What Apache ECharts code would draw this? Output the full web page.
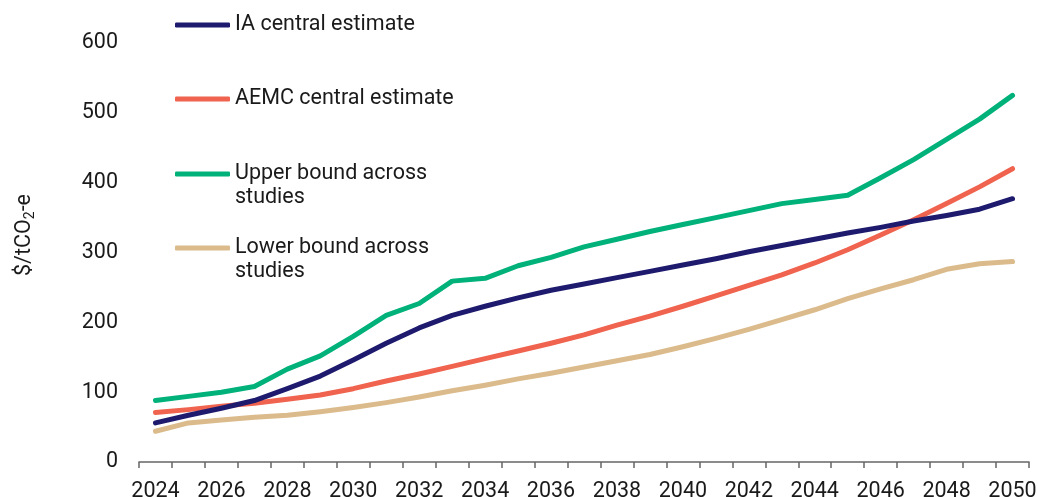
<!DOCTYPE html>
<html>
<head>
<meta charset="utf-8">
<script src="https://cdn.jsdelivr.net/npm/echarts@6/dist/echarts.min.js"></script>
<style>
html,body{margin:0;padding:0;background:#fff;}
#chart{width:1038px;height:497px;}
</style>
</head>
<body>
<div id="chart"></div>
<script>
const years = ['2024','2025','2026','2027','2028','2029','2030','2031','2032','2033','2034','2035','2036','2037','2038','2039','2040','2041','2042','2043','2044','2045','2046','2047','2048','2049','2050'];
const iaCentral = [56,67,77,88,105,123,146,170,192,210,223,235,246,255,264,273,282,291,301,310,319,328,336,345,353,362,377];
const aemcCentral = [71,75,80,84,90,96,105,116,126,137,148,159,170,182,196,209,223,238,253,268,285,304,325,347,370,394,420];
const upperBound = [88,94,100,108,133,152,180,210,227,259,263,281,293,308,319,330,340,350,360,370,376,382,407,433,462,491,525];
const lowerBound = [44,56,60,64,67,72,78,85,93,102,110,119,127,136,145,154,165,177,190,204,218,234,248,261,276,284,287];
const seriesNames = ['IA central estimate','AEMC central estimate','Upper bound across\nstudies','Lower bound across\nstudies'];
const colors = ['#1E1B6E','#F0634E','#00B27A','#DBBB8B'];
const yTicks = {min:0, max:600, interval:100};

const FONT = 'Roboto';
const FS = 21.5;
const chart = echarts.init(document.getElementById('chart'), null, {renderer:'canvas'});

function legendFor(i, top, twoLine){
  return {
    data:[{name: seriesNames[i], icon: 'roundRect'}],
    left: 175,
    top: top,
    orient: 'vertical',
    itemWidth: 55,
    itemHeight: 5,
    itemGap: 0,
    padding: 0,
    selectedMode: false,
    formatter: twoLine ? (n => '\n' + n) : (n => n),
    textStyle: {
      fontFamily: FONT, fontSize: FS, color:'#1a1a1a', lineHeight: 24
    }
  };
}

const allData = [iaCentral, aemcCentral, upperBound, lowerBound];

chart.setOption({
  animation:false,
  textStyle:{fontFamily:FONT},
  grid:{left:139, right:9, top:43, bottom:35, containLabel:false, outerBoundsMode:'none'},
  legend:[
    legendFor(0, 13, false),
    legendFor(1, 87, false),
    legendFor(2, 138, true),
    legendFor(3, 212, true)
  ],
  xAxis:{
    type:'category',
    data: years,
    boundaryGap:true,
    axisLine:{show:true, lineStyle:{color:'#666', width:1.5}},
    axisTick:{show:true, length:6, interval:0, lineStyle:{color:'#666', width:1.5}},
    axisLabel:{interval:1, fontFamily:FONT, fontSize:FS, color:'#1a1a1a', margin:19},
    splitLine:{show:false}
  },
  yAxis:{
    type:'value',
    min:yTicks.min, max:yTicks.max, interval:yTicks.interval,
    axisLine:{show:false},
    axisTick:{show:false},
    splitLine:{show:false},
    axisLabel:{fontFamily:FONT, fontSize:FS, color:'#1a1a1a', margin:21}
  },
  graphic:[{
    type:'text',
    x:25, y:235,
    rotation:Math.PI/2,
    style:{
      text:'{a|$/tCO}{s|2}{a|-e}',
      align:'center',
      verticalAlign:'middle',
      rich:{
        a:{fontFamily:FONT, fontSize:FS, fill:'#1a1a1a'},
        s:{fontFamily:FONT, fontSize:14, fill:'#1a1a1a', padding:[10,0,0,0]}
      }
    }
  }],
  series: allData.map((d,i)=>({
    name: seriesNames[i],
    type:'line',
    data:d,
    symbol:'none',
    smooth:false,
    lineStyle:{color:colors[i], width:5, cap:'round', join:'round'},
    itemStyle:{color:colors[i]},
    z: [4,3,2,1][i]
  }))
});
</script>
</body>
</html>
